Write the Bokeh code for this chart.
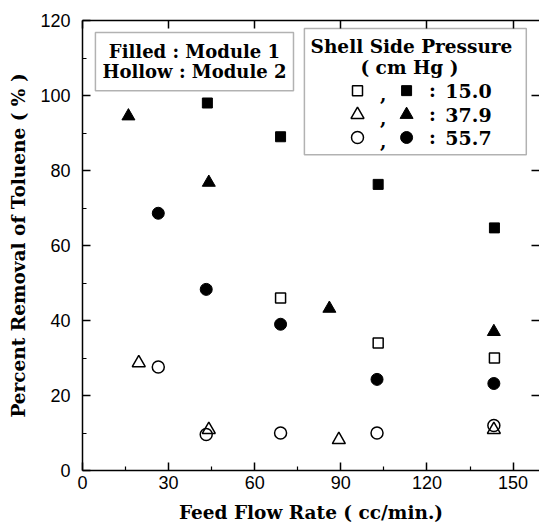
from bokeh.plotting import figure
from bokeh.models import LinearAxis, FixedTicker, BoxAnnotation, Label, Range1d
from bokeh.embed import file_html
from bokeh.resources import INLINE

# ---- data ----
flow_m1_15 = [43.5, 69.0, 103.0, 143.5]
removal_m1_15 = [98.0, 89.0, 76.3, 64.7]
flow_m2_15 = [69.0, 103.0, 143.5]
removal_m2_15 = [46.0, 34.0, 30.0]
flow_m1_379 = [16.0, 44.0, 86.0, 143.3]
removal_m1_379 = [94.5, 76.8, 43.2, 37.0]
flow_m2_379 = [19.6, 44.0, 89.3, 143.3]
removal_m2_379 = [28.7, 10.9, 8.2, 10.9]
flow_m1_557 = [26.4, 43.1, 69.0, 102.6, 143.3]
removal_m1_557 = [68.6, 48.3, 39.0, 24.3, 23.2]
flow_m2_557 = [26.4, 43.1, 69.0, 102.6, 143.3]
removal_m2_557 = [27.6, 9.6, 10.0, 10.0, 12.0]

x_ticks = [0, 30, 60, 90, 120, 150]
x_minor = [15, 45, 75, 105, 135]
y_ticks = [0, 20, 40, 60, 80, 100, 120]
y_minor = [10, 30, 50, 70, 90, 110]
right_ticks = [20, 40, 60, 80, 100]
pressures = ["15.0", "37.9", "55.7"]

LAB_FONT = "DejaVu Serif"
TICK_FONT = "Liberation Sans"
X_END = 159.2
FRAME_W = 539 - 82

p = figure(width=539, height=525, output_backend="svg", toolbar_location=None,
           x_range=Range1d(0, X_END), y_range=Range1d(0, 120),
           x_axis_location=None, y_axis_location=None,
           min_border_left=82, min_border_right=0, min_border_top=20, min_border_bottom=55)
p.grid.visible = False
p.outline_line_color = None
p.background_fill_color = "white"
p.border_fill_color = "white"

def style_axis(ax, labels=True):
    ax.axis_line_color = "black"
    ax.axis_line_width = 1.5
    ax.major_tick_line_color = "black"
    ax.major_tick_line_width = 1.5
    ax.minor_tick_line_color = "black"
    ax.minor_tick_line_width = 1.2
    ax.major_tick_out = 0
    ax.minor_tick_out = 0
    ax.major_tick_in = 8
    ax.minor_tick_in = 4
    if labels:
        ax.major_label_text_font = TICK_FONT
        ax.major_label_text_font_size = "18px"
        ax.major_label_text_color = "black"
        ax.axis_label_text_font = LAB_FONT
        ax.axis_label_text_font_style = "bold"
        ax.axis_label_text_font_size = "18.5px"
        ax.axis_label_text_color = "black"
    else:
        ax.major_label_overrides = {t: "" for t in x_ticks}
        ax.major_label_standoff = 0
        ax.axis_label = None

xb = LinearAxis(ticker=FixedTicker(ticks=x_ticks, minor_ticks=x_minor), axis_label="Feed Flow Rate ( cc/min.)")
style_axis(xb)
xb.major_label_standoff = 5
xb.axis_label_standoff = 10
p.add_layout(xb, "below")

yl = LinearAxis(ticker=FixedTicker(ticks=y_ticks, minor_ticks=y_minor), axis_label="Percent Removal of Toluene ( % )")
style_axis(yl)
yl.major_label_standoff = 12
yl.axis_label_standoff = 8
p.add_layout(yl, "left")

xt = LinearAxis(ticker=FixedTicker(ticks=x_ticks, minor_ticks=[]))
style_axis(xt, labels=False)
p.add_layout(xt, "above")

# right-side inward ticks (the right spine itself lies just outside the picture)
tick_len = 8 * X_END / FRAME_W
p.segment(x0=[X_END - tick_len] * len(right_ticks), y0=right_ticks,
          x1=[X_END] * len(right_ticks), y1=right_ticks, line_color="black", line_width=1.5)

# ---- legend boxes (under the glyphs) ----
p.add_layout(BoxAnnotation(left=4.5, right=73.5, top=116.8, bottom=101.3, fill_color="white", fill_alpha=1,
                           line_color="black", line_width=1.5, level="underlay"))
p.add_layout(BoxAnnotation(left=77.3, right=154.6, top=117.9, bottom=84.2, fill_color="white", fill_alpha=1,
                           line_color="black", line_width=1.5, level="underlay"))

# ---- data markers ----
p.scatter(flow_m1_15, removal_m1_15, marker="square", size=10, color="black")
p.scatter(flow_m2_15, removal_m2_15, marker="square", size=10, fill_color="white", line_color="black", line_width=1.5)
p.scatter(flow_m1_379, removal_m1_379, marker="triangle", size=13, color="black")
p.scatter(flow_m2_379, removal_m2_379, marker="triangle", size=13, fill_color=None, line_color="black", line_width=1.5)
p.scatter(flow_m1_557, removal_m1_557, marker="circle", size=12, color="black")
p.scatter(flow_m2_557, removal_m2_557, marker="circle", size=12, fill_color=None, line_color="black", line_width=1.5)

def lab(x, y, t, align="center", size="18.5px"):
    p.add_layout(Label(x=x, y=y, text=t, text_align=align, text_baseline="middle",
                       text_font=LAB_FONT, text_font_style="bold", text_font_size=size, text_color="black"))

lab(39.0, 111.8, "Filled : Module 1", size="18px")
lab(39.0, 106.4, "Hollow : Module 2", size="18px")
lab(114.6, 113.1, "Shell Side Pressure")
lab(113.9, 107.5, "( cm Hg )")

row_y = [101.3, 94.9, 88.8]
markers = ["square", "triangle", "circle"]
msize = [10, 13, 12]
for yy, mk, sz, pr in zip(row_y, markers, msize, pressures):
    p.scatter([95.8], [yy], marker=mk, size=sz, fill_color="white", line_color="black", line_width=1.5)
    p.scatter([112.9], [yy], marker=mk, size=sz, color="black")
    lab(104.8, yy - 0.8, ",")
    lab(121.9, yy, ":")
    lab(126.4, yy, pr, align="left", size="19px")

html = file_html(p, INLINE)
open("out.html", "w").write(html)
